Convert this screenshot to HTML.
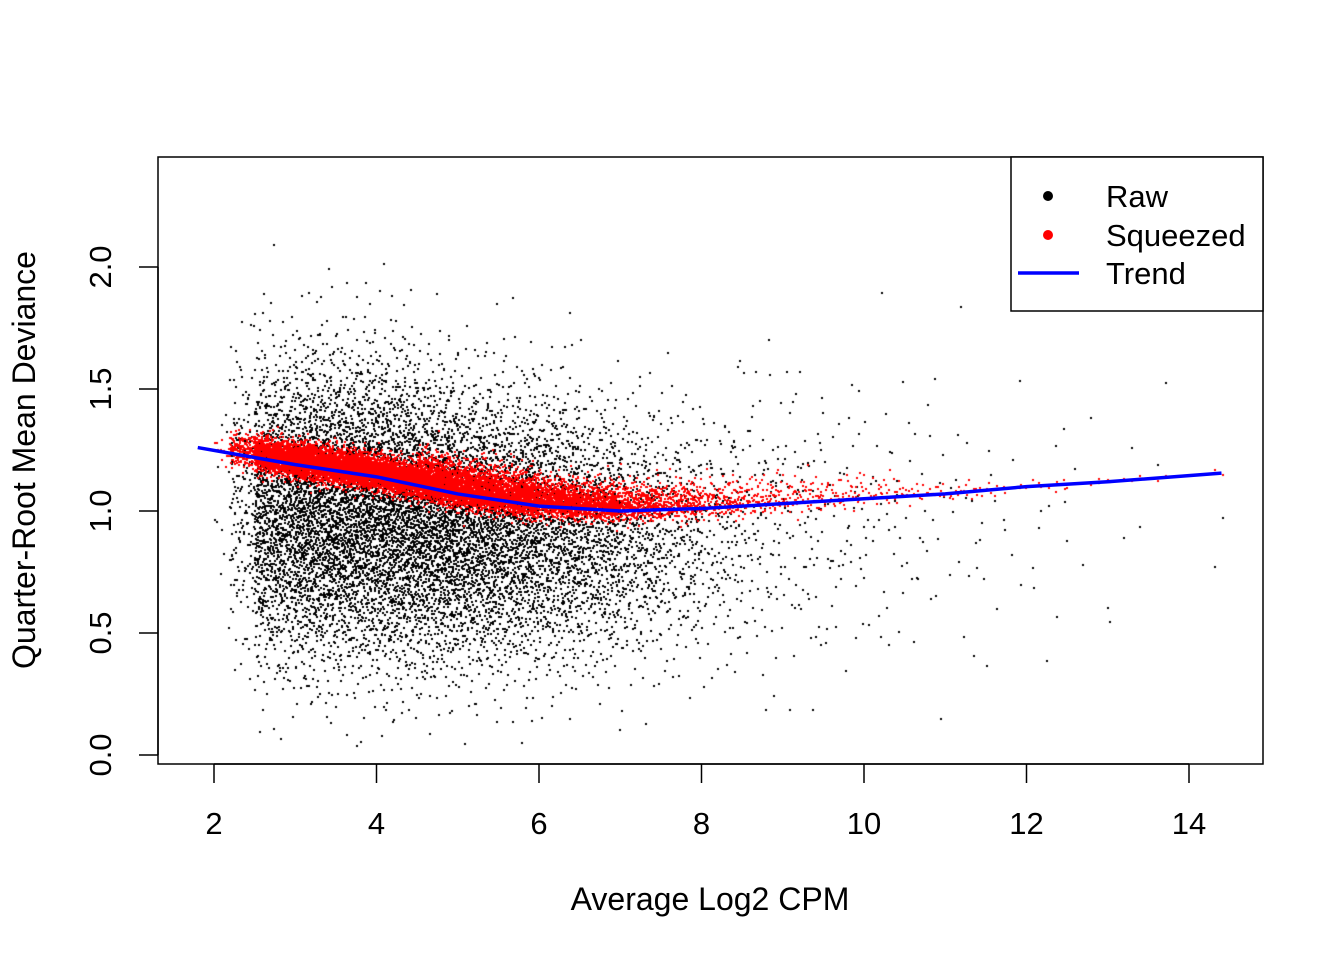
<!DOCTYPE html>
<html><head><meta charset="utf-8"><style>
html,body{margin:0;padding:0;background:#fff;}
#wrap{position:relative;width:1344px;height:960px;}
canvas,svg{position:absolute;left:0;top:0;}
text{font-family:"Liberation Sans",sans-serif;fill:#000;}
</style></head><body>
<div id="wrap">
<canvas id="cv" width="1344" height="960"></canvas>
<svg id="sv" width="1344" height="960"></svg>
</div>
<script>
// ---- data ----
const binStarts = [2.0,2.5,3.0,3.5,4.0,4.5,5.0,5.5,6.0,6.5,7.0,7.5,8.0,8.5,9.0,9.5,10.0,10.5,11.0,11.5,12.0,12.5,13.0,13.5,14.0];
const rawCounts = [300,1200,1500,1500,1500,1400,1200,1000,800,600,400,250,150,100,70,50,35,25,18,12,10,6,4,2,2];
const rawMeans  = [1.05,1.0,1.0,1.0,0.98,0.95,0.93,0.93,0.92,0.9,0.9,0.9,0.9,0.92,0.95,0.95,0.95,0.95,0.95,0.95,0.95,0.95,0.95,1.0,1.0];
const rawSds    = [0.3,0.3,0.3,0.3,0.3,0.28,0.27,0.27,0.27,0.25,0.25,0.25,0.27,0.3,0.3,0.3,0.3,0.3,0.3,0.3,0.3,0.3,0.3,0.3,0.3];
const sqOffsets = [0.02,0.02,0.02,0.02,0.02,0.02,0.02,0.02,0.02,0.02,0.02,0.02,0.02,0.02,0.02,0.02,0.02,0.01,0.0,0.0,0.0,0.0,0.0,0.0,0.0];
const sqSds     = [0.035,0.035,0.035,0.035,0.035,0.035,0.035,0.035,0.03,0.03,0.03,0.03,0.03,0.03,0.03,0.03,0.025,0.02,0.02,0.015,0.015,0.01,0.01,0.01,0.01];
const trendX = [1.8,3,4,5,6,7,8,9,10,11,12,13,14.4];
const trendY = [1.26,1.19,1.14,1.07,1.02,1.0,1.01,1.03,1.05,1.07,1.10,1.12,1.155];
const xTicks = [2,4,6,8,10,12,14];
const yTicks = [0.0,0.5,1.0,1.5,2.0];
const yTickLabels = ["0.0","0.5","1.0","1.5","2.0"];

// ---- scales ----
const X = v => 214 + (v-2)*81.25;
const Y = v => 755 - v*244;
function trendAt(x){
  if(x<=trendX[0]) return trendY[0];
  for(let i=1;i<trendX.length;i++){ if(x<=trendX[i]){const t=(x-trendX[i-1])/(trendX[i]-trendX[i-1]);return trendY[i-1]+t*(trendY[i]-trendY[i-1]);} }
  return trendY[trendY.length-1];
}
function halton(i,b){let f=1,r=0;while(i>0){f/=b;r+=f*(i%b);i=Math.floor(i/b);}return r;}
function gauss(i){const u=Math.max(halton(i,2),1e-4),v=halton(i,3);return Math.sqrt(-2*Math.log(u))*Math.cos(2*Math.PI*v);}

const ctx=document.getElementById('cv').getContext('2d');
let k=1;
const sq=[];
for(let b=0;b<binStarts.length;b++){
  for(let j=0;j<rawCounts[b];j++,k++){
    const x=binStarts[b]+halton(k,5)*0.5;
    if(x<2.2 && halton(k,7)>0.1) continue;
    let y=rawMeans[b]+rawSds[b]*gauss(k);
    if(y<0.02||y>2.3) continue;
    ctx.fillStyle='#000';
    ctx.fillRect(Math.round(X(x)-1),Math.round(Y(y)-1),2,2);
    let g=gauss(k+7919);
    if(b>=5&&b<=16&&g>0) g*=1.6;
    sq.push([x,trendAt(x)+sqOffsets[b]+sqSds[b]*g]);
  }
}
ctx.fillStyle='#ff0000';
sq.forEach(p=>ctx.fillRect(Math.round(X(p[0])-1),Math.round(Y(p[1])-1),2,2));

// ---- svg ----
const NS='http://www.w3.org/2000/svg';
const sv=document.getElementById('sv');
function el(tag,attrs,parent){const e=document.createElementNS(NS,tag);for(const a in attrs)e.setAttribute(a,attrs[a]);(parent||sv).appendChild(e);return e;}

let d='';
trendX.forEach((x,i)=>{d+=(i?'L':'M')+X(x)+' '+Y(trendY[i]);});
const tl=el('path',{d:d,fill:'none',stroke:'#0000ff','stroke-width':3.5});



const box=el('rect',{x:158,y:157,width:1105,height:607,fill:'none',stroke:'#000','stroke-width':1.5});



const xa=el('g',{});


el('line',{x1:X(2),x2:X(14),y1:764,y2:764,stroke:'#000','stroke-width':1.5},xa);
xTicks.forEach(t=>{
  el('line',{x1:X(t),x2:X(t),y1:764,y2:783,stroke:'#000','stroke-width':1.5},xa);
  const tx=el('text',{x:X(t),y:834,'text-anchor':'middle','font-size':31},xa);
  tx.textContent=t;
  
  
});
const ya=el('g',{});


el('line',{x1:158,x2:158,y1:Y(0),y2:Y(2),stroke:'#000','stroke-width':1.5},ya);
yTicks.forEach((t,i)=>{
  el('line',{x1:139,x2:158,y1:Y(t),y2:Y(t),stroke:'#000','stroke-width':1.5},ya);
  const tx=el('text',{x:0,y:0,'text-anchor':'middle','font-size':31,transform:`translate(111,${Y(t)}) rotate(-90)`},ya);
  tx.textContent=yTickLabels[i];
  
  
});
const xt=el('text',{x:710,y:910,'text-anchor':'middle','font-size':32});
xt.textContent='Average Log2 CPM';


const yt=el('text',{x:0,y:0,'text-anchor':'middle','font-size':32,transform:'translate(35,460) rotate(-90)'});
yt.textContent='Quarter-Root Mean Deviance';



const lg=el('g',{});


el('rect',{x:1011,y:157,width:252,height:154,fill:'#fff',stroke:'#000','stroke-width':1.5},lg);
const legItems=[['Raw',196,'#000'],['Squeezed',235,'#ff0000'],['Trend',273,'#0000ff']];
legItems.forEach((it,i)=>{
  if(i<2) el('circle',{cx:1048,cy:it[1],r:5,fill:it[2]},lg);
  else el('line',{x1:1018,x2:1079,y1:it[1],y2:it[1],stroke:it[2],'stroke-width':3.5},lg);
  const tx=el('text',{x:1106,y:it[1]+11,'font-size':31},lg);
  tx.textContent=it[0];
  
  
});
</script>
</body></html>
